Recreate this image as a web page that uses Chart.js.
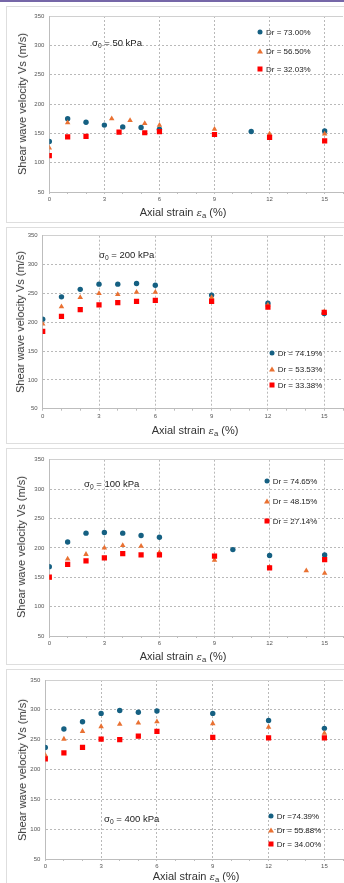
<!DOCTYPE html>
<html>
<head>
<meta charset="utf-8">
<script src="https://cdn.jsdelivr.net/npm/chart.js@4.4.1/dist/chart.umd.min.js"></script>
<style>
html,body{margin:0;padding:0;width:344px;height:883px;overflow:hidden;background:#fff;font-family:"Liberation Sans",Arial,sans-serif;}
.topbar{position:absolute;left:0;top:0;width:344px;height:2px;background:#7667a8;}
.box{position:absolute;left:6px;width:420px;border:1px solid #dedede;box-sizing:border-box;background:#fff;}
canvas{position:absolute;left:0;}
.ytitle{position:absolute;transform:translate(-50%,-50%) rotate(-90deg);white-space:nowrap;font-size:11px;color:#333;}
.xtitle{position:absolute;transform:translate(-50%,-50%);white-space:nowrap;font-size:11px;color:#333;}
.eps{font-family:"DejaVu Serif",serif;font-style:italic;font-size:10px;}
.sub{font-size:70%;vertical-align:-0.3em;}
.ann{position:absolute;transform:translateY(-50%);white-space:nowrap;font-size:9.5px;color:#222;}
.lg{position:absolute;transform:translateY(-50%);white-space:nowrap;font-size:8px;color:#222;}
.mk{position:absolute;transform:translate(-50%,-50%);}
.mk.c{width:5px;height:5px;border-radius:50%;background:#156082;}
.mk.t{width:0;height:0;border-left:3px solid transparent;border-right:3px solid transparent;border-bottom:5px solid #E97132;}
.mk.s{width:5px;height:5px;background:#FF0000;}
</style>
</head>
<body>
<div class="topbar"></div>
<script>
// ---------- data ----------
const xTickLabels = [0, 3, 6, 9, 12, 15];
const xMinorTicks = [0, 1, 2, 3, 4, 5, 6, 7, 8, 9, 10, 11, 12, 13, 14, 15, 16];
const yTickLabels = [50, 100, 150, 200, 250, 300, 350];

// sigma0 = 50 kPa
const p1Title = 'σ0 = 50 kPa';
const p1Legend = ['Dr = 73.00%', 'Dr = 56.50%', 'Dr = 32.03%'];
const p1BlueX = [0, 1, 2, 3, 4, 5, 6, 11, 15];
const p1BlueY = [136, 175, 169, 164, 161, 160, 157, 153, 154];
const p1OrangeX = [0, 1, 3.4, 4.4, 5.2, 6, 9, 12, 15];
const p1OrangeY = [125, 168, 175, 172, 167, 164, 157, 149, 149];
const p1RedX = [0, 1, 2, 3.8, 5.2, 6, 9, 12, 15];
const p1RedY = [112, 144, 145, 152, 151, 153, 148, 143, 137];

// sigma0 = 200 kPa
const p2Title = 'σ0 = 200 kPa';
const p2Legend = ['Dr = 74.19%', 'Dr = 53.53%', 'Dr = 33.38%'];
const p2X = [0, 1, 2, 3, 4, 5, 6, 9, 12, 15];
const p2BlueY = [205, 244, 257, 266, 266, 267, 264, 247, 233, 215];
const p2OrangeY = [197, 227, 243, 250, 248, 252, 252, 243, 230, 218];
const p2RedY = [184, 210, 222, 230, 234, 236, 238, 236, 226, 217];

// sigma0 = 100 kPa
const p3Title = 'σ0 = 100 kPa';
const p3Legend = ['Dr = 74.65%', 'Dr = 48.15%', 'Dr = 27.14%'];
const p3BlueX = [0, 1, 2, 3, 4, 5, 6, 10, 12, 15];
const p3BlueY = [168, 210, 225, 226, 225, 221, 218, 197, 187, 188];
const p3OrangeX = [0, 1, 2, 3, 4, 5, 6, 9, 12, 14, 15];
const p3OrangeY = [149, 181, 189, 200, 204, 203, 192, 179, 167, 161, 157];
const p3RedX = [0, 1, 2, 3, 4, 5, 6, 9, 12, 15];
const p3RedY = [150, 172, 178, 183, 190, 188, 188, 186, 166, 180];

// sigma0 = 400 kPa
const p4Title = 'σ0 = 400 kPa';
const p4Legend = ['Dr =74.39%', 'Dr = 55.88%', 'Dr = 34.00%'];
const p4X = [0, 1, 2, 3, 4, 5, 6, 9, 12, 15];
const p4BlueY = [237, 268, 280, 294, 299, 296, 298, 294, 282, 269];
const p4OrangeY = [224, 251, 264, 272, 276, 278, 280, 277, 271, 261];
const p4RedY = [218, 228, 237, 251, 250, 256, 264, 254, 253, 253];

const yAxisTitle = 'Shear wave velocity Vs (m/s)';
const xAxisTitleHtml = 'Axial strain <span class="eps">ε</span><span class="sub">a</span> (%)';

// ---------- styles / layout ----------
const BLUE = '#156082', ORANGE = '#E97132', RED = '#FF0000';
const FONT = '"Liberation Sans", Arial, sans-serif';

const pts = (xs, ys) => xs.map((x, i) => ({x: x, y: ys[i]}));

const panels = [
  {top: 6, h: 217, plotTop: 16, plotBottom: 192, left: 49.3,
   series: [pts(p1BlueX, p1BlueY), pts(p1OrangeX, p1OrangeY), pts(p1RedX, p1RedY)],
   legend: p1Legend, title: p1Title,
   ann: [92, 43], lgM: 260, lgT: 266, lgY: [32.3, 50.7, 69],
   yt: [22, 104], xt: [183, 213]},
  {top: 227, h: 217, plotTop: 235.7, plotBottom: 408.7, left: 42.7,
   series: [pts(p2X, p2BlueY), pts(p2X, p2OrangeY), pts(p2X, p2RedY)],
   legend: p2Legend, title: p2Title,
   ann: [99, 254.7], lgM: 271.7, lgT: 277.7, lgY: [352.7, 368.7, 384.7],
   yt: [19.5, 322], xt: [195, 430.7]},
  {top: 448, h: 217, plotTop: 459.7, plotBottom: 636, left: 49.3,
   series: [pts(p3BlueX, p3BlueY), pts(p3OrangeX, p3OrangeY), pts(p3RedX, p3RedY)],
   legend: p3Legend, title: p3Title,
   ann: [84, 484.3], lgM: 266.7, lgT: 272.7, lgY: [481, 501, 521],
   yt: [21, 547], xt: [183, 657]},
  {top: 669, h: 214, plotTop: 680, plotBottom: 859, left: 45.3,
   series: [pts(p4X, p4BlueY), pts(p4X, p4OrangeY), pts(p4X, p4RedY)],
   legend: p4Legend, title: p4Title,
   ann: [104, 819.3], lgM: 271, lgT: 276.7, lgY: [816, 830.3, 843.7],
   yt: [21.7, 769.5], xt: [196, 877]}
];

function addDiv(cls, html, x, y) {
  const d = document.createElement('div');
  d.className = cls;
  d.innerHTML = html;
  d.style.left = x + 'px';
  d.style.top = y + 'px';
  document.body.appendChild(d);
  return d;
}

const TRANSP = 'rgba(0,0,0,0)';
const GRID = '#b9b9b9';
const AXIS = '#bdbdbd';

panels.forEach((p, idx) => {
  const box = document.createElement('div');
  box.className = 'box';
  box.style.top = p.top + 'px';
  box.style.height = (p.h + (idx === 3 ? 20 : 0)) + 'px';
  document.body.appendChild(box);

  const cw = Math.round(p.left + 16 / 15 * (328 - p.left));
  const cv = document.createElement('canvas');
  cv.width = cw; cv.height = p.h;
  cv.style.top = p.top + 'px';
  cv.style.width = cw + 'px'; cv.style.height = p.h + 'px';
  document.body.appendChild(cv);

  const xh = p.top + p.h - p.plotBottom;
  const L = p.left;

  new Chart(cv.getContext('2d'), {
    type: 'scatter',
    data: {
      datasets: [
        {label: p.legend[0], data: p.series[0], pointStyle: 'circle', pointRadius: 2.7,
         backgroundColor: BLUE, borderColor: BLUE, borderWidth: 0, order: 2},
        {label: p.legend[1], data: p.series[1], pointStyle: 'triangle', pointRadius: 3.2,
         backgroundColor: ORANGE, borderColor: ORANGE, borderWidth: 0, order: 1},
        {label: p.legend[2], data: p.series[2], pointStyle: 'rect', pointRadius: 3.7,
         backgroundColor: RED, borderColor: RED, borderWidth: 0, order: 0}
      ]
    },
    options: {
      responsive: false,
      animation: false,
      devicePixelRatio: 1,
      layout: {padding: {top: p.plotTop - p.top, left: 0, right: 0, bottom: 0}},
      plugins: {legend: {display: false}, tooltip: {enabled: false}},
      scales: {
        x: {
          type: 'linear', min: 0, max: 16,
          afterBuildTicks: s => { s.ticks = xMinorTicks.map(v => ({value: v})); },
          afterFit: s => { s.height = xh; },
          ticks: {autoSkip: false, maxRotation: 0, padding: 2, color: '#555',
                  font: {size: 6, family: FONT},
                  callback: v => xTickLabels.includes(v) ? String(v) : ''},
          grid: {color: c => (c.tick && c.tick.value > 0 && xTickLabels.includes(c.tick.value)) ? GRID : TRANSP,
                 tickColor: AXIS, tickLength: 2, lineWidth: 1},
          border: {color: AXIS, width: 1, dash: [2, 2]}
        },
        y: {
          min: 50, max: 350,
          afterBuildTicks: s => { s.ticks = yTickLabels.map(v => ({value: v})); },
          afterFit: s => { s.width = L; },
          ticks: {padding: 5, color: '#555', font: {size: 6, family: FONT}},
          grid: {drawTicks: false, lineWidth: 1,
                 color: c => (c.tick && c.tick.value === 50) ? TRANSP : (c.tick && c.tick.value === 350 ? '#d0d0d0' : GRID)},
          border: {color: AXIS, width: 1, dash: c => (c.tick && c.tick.value === 350) ? [] : [2, 2]}
        }
      }
    }
  });

  // axis titles
  addDiv('ytitle', yAxisTitle, p.yt[0], p.yt[1]);
  addDiv('xtitle', xAxisTitleHtml, p.xt[0], p.xt[1]);
  // annotation
  const t = p.title.replace('σ0', 'σ<span class="sub">0</span>');
  addDiv('ann', t, p.ann[0], p.ann[1]);
  // legend
  ['c', 't', 's'].forEach((k, i) => {
    addDiv('mk ' + k, '', p.lgM, p.lgY[i]);
    addDiv('lg', p.legend[i], p.lgT, p.lgY[i]);
  });
});
</script>
</body>
</html>
